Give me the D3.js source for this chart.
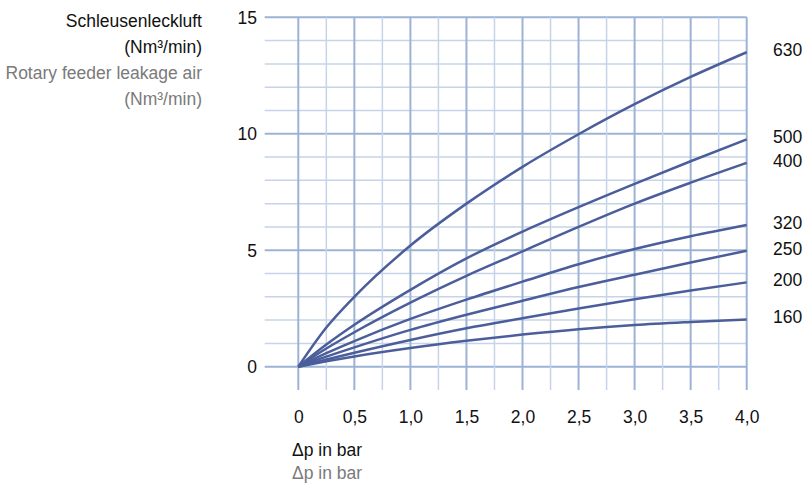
<!DOCTYPE html>
<html>
<head>
<meta charset="utf-8">
<script src="https://cdn.jsdelivr.net/npm/d3@7"></script>
<style>
  body{margin:0;background:#fff;}
  svg{display:block;font-family:"Liberation Sans",Arial,sans-serif;}
</style>
</head>
<body>
<svg width="806" height="488"></svg>
<script>
// pressure difference in bar
var dp=[0,0.25,0.5,1.0,1.5,2.0,2.5,3.0,3.5,4.0];
// leakage air per feeder size (Nm3/min)
var sizes=['630','500','400','320','250','200','160'];
var v630=[0,1.68,3.0,5.2,7.0,8.58,9.98,11.27,12.44,13.5];
var v500=[0,0.95,1.8,3.3,4.65,5.8,6.85,7.85,8.82,9.76];
var v400=[0,0.78,1.48,2.75,3.9,4.95,6.0,7.0,7.9,8.75];
var v320=[0,0.58,1.1,2.05,2.88,3.65,4.4,5.05,5.6,6.08];
var v250=[0,0.43,0.83,1.58,2.23,2.83,3.42,3.95,4.47,4.98];
var v200=[0,0.31,0.6,1.15,1.65,2.08,2.5,2.9,3.27,3.62];
var v160=[0,0.23,0.44,0.8,1.11,1.38,1.61,1.79,1.92,2.03];
var series=[v630,v500,v400,v320,v250,v200,v160];

var xTicks=[0,0.5,1.0,1.5,2.0,2.5,3.0,3.5,4.0];
var yTicks=[0,5,10,15];
var yTitle=['Schleusenleckluft','(Nm³/min)'];
var yTitleEn=['Rotary feeder leakage air','(Nm³/min)'];
var xTitle='Δp in bar';

var drawChart=function(){
  let svg=d3.select('svg');
  let x=d3.scaleLinear().domain([0,4]).range([298.3,746.7]);
  let y=d3.scaleLinear().domain([0,15]).range([366.7,17.3]);
  let minor='#c6d4e9', major='#9db3d5';

  let grid=svg.append('g').attr('id','grid');
  // horizontal lines, every 1 unit, thicker at multiples of 5
  grid.selectAll('line.h')
    .data(d3.range(0,16))
    .enter().append('line')
    .attr('class','h')
    .attr('x1',x(-0.3)).attr('x2',x(4))
    .attr('y1',function(d){return y(d);})
    .attr('y2',function(d){return y(d);})
    .attr('stroke',function(d){return d%5==0?major:minor;})
    .attr('stroke-width',function(d){return d%5==0?2:1.5;});
  // vertical lines, every 0.25 bar, reaching down below zero
  grid.selectAll('line.v')
    .data(d3.range(0,17).map(function(i){return i*0.25;}))
    .enter().append('line')
    .attr('class','v')
    .attr('y1',y(-1)).attr('y2',y(15))
    .attr('x1',function(d){return x(d);})
    .attr('x2',function(d){return x(d);})
    .attr('stroke',function(d,i){return i%2==0?major:minor;})
    .attr('stroke-width',function(d,i){return i%2==0?2:1.5;});

  let line=d3.line()
    .x(function(d,i){return x(dp[i]);})
    .y(function(d){return y(d);})
    .curve(d3.curveMonotoneX);

  svg.append('g').attr('id','curves')
    .selectAll('path')
    .data(series)
    .enter().append('path')
    .attr('d',line)
    .attr('fill','none')
    .attr('stroke','#4b5e9b')
    .attr('stroke-width',2.5);

  svg.append('g').attr('id','sizes')
    .selectAll('text')
    .data(series)
    .enter().append('text')
    .attr('x',773)
    .attr('y',function(d){return y(d[d.length-1])+4;})
    .attr('font-size','17.5px')
    .attr('fill','#111')
    .text(function(d,i){return sizes[i];});

  let xAxis=d3.axisBottom(x).tickValues(xTicks).tickSize(0)
    .tickFormat(function(d){return d==0?'0':d3.format('.1f')(d).replace('.',',');});
  let xg=svg.append('g').attr('id','x-axis')
    .attr('transform','translate(0,'+(y(0)+53)+')')
    .call(xAxis);
  xg.select('.domain').remove();
  xg.selectAll('text').attr('font-size','17.5px').attr('fill','#111')
    .attr('font-family','"Liberation Sans",Arial,sans-serif').attr('dy','0');

  let yAxis=d3.axisLeft(y).tickValues(yTicks).tickSize(0);
  let yg=svg.append('g').attr('id','y-axis')
    .attr('transform','translate(260,0)')
    .call(yAxis);
  yg.select('.domain').remove();
  yg.selectAll('text').attr('font-size','17.5px').attr('fill','#111')
    .attr('font-family','"Liberation Sans",Arial,sans-serif').attr('dy','0.35em');

  let titles=svg.append('g').attr('id','titles')
    .attr('font-size','17.5px').attr('text-anchor','end');
  titles.selectAll('text.de')
    .data(yTitle).enter().append('text')
    .attr('class','de')
    .attr('x',202).attr('y',function(d,i){return 26.5+i*26;})
    .attr('fill','#111').text(function(d){return d;});
  titles.selectAll('text.en')
    .data(yTitleEn).enter().append('text')
    .attr('class','en')
    .attr('x',202).attr('y',function(d,i){return 79+i*26;})
    .attr('fill','#7a7a7a').text(function(d){return d;});

  svg.append('text').attr('x',292).attr('y',456)
    .attr('font-size','17.5px').attr('fill','#111').text(xTitle);
  svg.append('text').attr('x',292).attr('y',479)
    .attr('font-size','17.5px').attr('fill','#7a7a7a').text(xTitle);
};
drawChart();
</script>
</body>
</html>
